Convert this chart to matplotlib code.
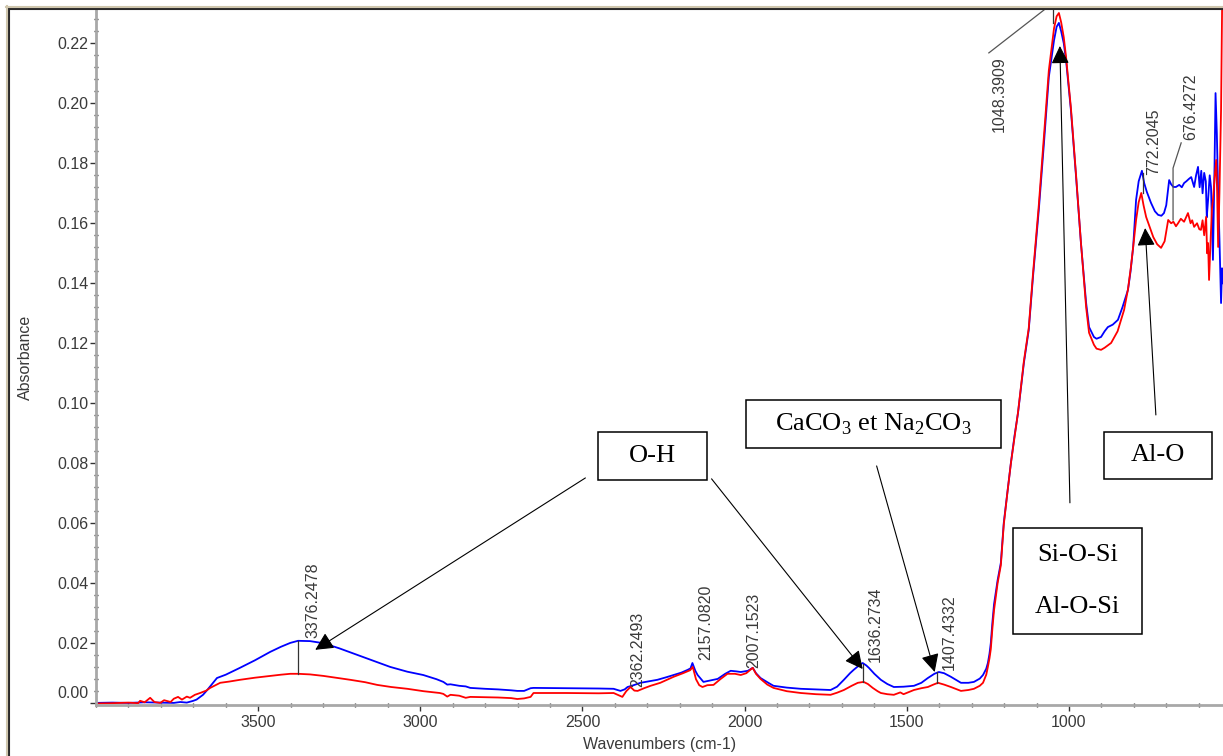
import matplotlib
matplotlib.use('Agg')
import matplotlib.pyplot as plt
import matplotlib.transforms as mtransforms
from matplotlib.patches import Rectangle
from matplotlib.lines import Line2D
from matplotlib.ticker import FixedLocator, MultipleLocator, FormatStrFormatter

plt.rcParams['font.family'] = ['Liberation Sans', 'DejaVu Sans']
plt.rcParams['mathtext.fontset'] = 'custom'
plt.rcParams['mathtext.rm'] = 'Liberation Serif'

# spectrum 1 (blue)
wn_blue = [4000, 3950, 3900, 3850, 3800, 3760, 3740, 3720, 3700, 3690, 3670, 3657, 3642, 3627, 3600,
           3556, 3510, 3463, 3430, 3401, 3377, 3340, 3299, 3250, 3194, 3140, 3093, 3040, 2991, 2950,
           2929, 2917, 2907, 2880, 2860, 2846, 2800, 2760, 2720, 2701, 2680, 2660, 2651, 2550, 2450,
           2404, 2383, 2370, 2361, 2345, 2321, 2290, 2269, 2240, 2219, 2195, 2176, 2167, 2161, 2152,
           2145, 2127, 2105, 2083, 2060, 2043, 2025, 2012, 1990, 1975, 1965, 1951, 1930, 1911, 1870,
           1827, 1780, 1735, 1715, 1694, 1675, 1664, 1645, 1636, 1625, 1617, 1600, 1580, 1560, 1540,
           1510, 1478, 1455, 1435, 1415, 1401, 1385, 1364, 1345, 1333, 1310, 1293, 1275, 1265, 1255,
           1250, 1245, 1241, 1236, 1231, 1220, 1210, 1201, 1190, 1179, 1168, 1157, 1148, 1139, 1124,
           1111, 1093, 1077, 1062, 1046, 1038, 1031, 1024, 1016, 1009, 994, 978, 963, 947, 938,
           923, 915, 901, 890, 880, 865, 849, 835, 818, 810, 802, 793, 785, 777, 775,
           768, 760, 747, 735, 725, 715, 707, 700, 691, 685, 678, 670, 660, 652, 645,
           638, 630, 623, 618, 614, 608, 602, 597, 592, 588, 583, 578, 575, 571, 566,
           562, 559, 556, 551, 548, 544, 540, 536, 531, 528, 525]
abs_blue = [0.0001, 0.0002, 0.0001, 0.0003, 0.0002, 0.0001, 0.0004, 0.0002, 0.0008, 0.0012, 0.0028, 0.0044, 0.0064, 0.0084, 0.0095,
            0.0118, 0.0143, 0.0171, 0.0188, 0.0201, 0.0208, 0.0207, 0.0200, 0.0183, 0.0161, 0.0140, 0.0121, 0.0105, 0.0094, 0.0080,
            0.0071, 0.0062, 0.0063, 0.0058, 0.0056, 0.0051, 0.0048, 0.0046, 0.0043, 0.0041, 0.0041, 0.0050, 0.0051, 0.0050, 0.0049,
            0.0048, 0.0041, 0.0046, 0.0054, 0.0059, 0.0068, 0.0074, 0.0078, 0.0087, 0.0094, 0.0102, 0.0111, 0.0116, 0.0134, 0.0108,
            0.0094, 0.0071, 0.0076, 0.0081, 0.0098, 0.0108, 0.0106, 0.0104, 0.0108, 0.0118, 0.0100, 0.0084, 0.0070, 0.0058, 0.0052,
            0.0048, 0.0046, 0.0044, 0.0055, 0.0078, 0.0100, 0.0111, 0.0128, 0.0134, 0.0126, 0.0118, 0.0098, 0.0078, 0.0064, 0.0054,
            0.0055, 0.0058, 0.0068, 0.0084, 0.0098, 0.0104, 0.0100, 0.0088, 0.0076, 0.0068, 0.0068, 0.0071, 0.0082, 0.0094, 0.0115,
            0.0134, 0.0165, 0.0200, 0.0270, 0.0330, 0.0410, 0.0468, 0.0601, 0.0700, 0.0801, 0.0890, 0.0968, 0.1050, 0.1134, 0.1244,
            0.1420, 0.1644, 0.1868, 0.2088, 0.2210, 0.2255, 0.2268, 0.2240, 0.2200, 0.2144, 0.1978, 0.1754, 0.1534, 0.1334, 0.1254,
            0.1221, 0.1215, 0.1221, 0.1240, 0.1254, 0.1262, 0.1278, 0.1320, 0.1378, 0.1440, 0.1521, 0.1678, 0.1740, 0.1768, 0.1775,
            0.1734, 0.1705, 0.1668, 0.1640, 0.1628, 0.1625, 0.1634, 0.1660, 0.1744, 0.1730, 0.1721, 0.1721, 0.1728, 0.1720, 0.1734,
            0.1740, 0.1748, 0.1754, 0.1735, 0.1721, 0.1760, 0.1788, 0.1720, 0.1775, 0.1700, 0.1768, 0.1740, 0.1620, 0.1678, 0.1760,
            0.1721, 0.1600, 0.1478, 0.1800, 0.2034, 0.1900, 0.1701, 0.1550, 0.1334, 0.1450, 0.1400]

# spectrum 2 (red)
wn_red = [4000, 3950, 3900, 3870, 3864, 3850, 3833, 3820, 3802, 3790, 3770, 3760, 3747, 3735, 3720,
          3710, 3695, 3679, 3660, 3648, 3617, 3590, 3556, 3510, 3463, 3430, 3401, 3377, 3340, 3299,
          3260, 3216, 3170, 3133, 3090, 3040, 2990, 2940, 2929, 2917, 2907, 2880, 2860, 2846, 2800,
          2760, 2720, 2701, 2680, 2660, 2651, 2550, 2450, 2404, 2385, 2377, 2365, 2352, 2340, 2330,
          2310, 2290, 2260, 2219, 2190, 2168, 2160, 2150, 2140, 2130, 2115, 2096, 2075, 2053, 2030,
          2012, 1995, 1975, 1965, 1951, 1930, 1911, 1870, 1827, 1780, 1735, 1715, 1694, 1670, 1651,
          1633, 1620, 1605, 1590, 1580, 1560, 1540, 1520, 1510, 1478, 1455, 1435, 1418, 1404, 1385,
          1364, 1345, 1333, 1310, 1293, 1275, 1265, 1255, 1250, 1245, 1241, 1236, 1231, 1220, 1210,
          1201, 1190, 1179, 1168, 1157, 1148, 1139, 1124, 1111, 1093, 1077, 1062, 1046, 1038, 1031,
          1024, 1016, 1009, 994, 978, 963, 947, 938, 923, 915, 901, 890, 870, 850, 830,
          818, 809, 800, 793, 785, 777, 770, 762, 750, 740, 728, 716, 705, 694, 685,
          678, 670, 663, 655, 645, 633, 625, 620, 614, 605, 598, 593, 588, 583, 577,
          574, 571, 568, 563, 559, 556, 551, 546, 543, 540, 536, 531, 528, 525]
abs_red = [-0.0001, 0.0000, 0.0002, 0.0000, 0.0008, 0.0003, 0.0018, 0.0004, 0.0001, 0.0010, 0.0004, 0.0015, 0.0021, 0.0012, 0.0022,
           0.0018, 0.0028, 0.0034, 0.0042, 0.0051, 0.0068, 0.0072, 0.0078, 0.0085, 0.0091, 0.0095, 0.0098, 0.0098, 0.0096, 0.0091,
           0.0085, 0.0078, 0.0070, 0.0061, 0.0054, 0.0048, 0.0040, 0.0034, 0.0031, 0.0022, 0.0028, 0.0025, 0.0018, 0.0021, 0.0020,
           0.0019, 0.0017, 0.0014, 0.0016, 0.0021, 0.0034, 0.0034, 0.0033, 0.0034, 0.0025, 0.0021, 0.0040, 0.0054, 0.0042, 0.0041,
           0.0050, 0.0058, 0.0068, 0.0088, 0.0100, 0.0110, 0.0121, 0.0080, 0.0060, 0.0054, 0.0060, 0.0061, 0.0080, 0.0098, 0.0098,
           0.0094, 0.0100, 0.0118, 0.0098, 0.0081, 0.0062, 0.0051, 0.0040, 0.0034, 0.0030, 0.0028, 0.0035, 0.0044, 0.0058, 0.0068,
           0.0071, 0.0064, 0.0051, 0.0040, 0.0034, 0.0030, 0.0028, 0.0036, 0.0030, 0.0044, 0.0050, 0.0054, 0.0062, 0.0068, 0.0062,
           0.0054, 0.0046, 0.0041, 0.0044, 0.0048, 0.0058, 0.0068, 0.0095, 0.0121, 0.0150, 0.0180, 0.0250, 0.0310, 0.0400, 0.0460,
           0.0595, 0.0700, 0.0800, 0.0885, 0.0970, 0.1055, 0.1140, 0.1250, 0.1430, 0.1660, 0.1890, 0.2110, 0.2250, 0.2290, 0.2301,
           0.2270, 0.2220, 0.2155, 0.1985, 0.1760, 0.1535, 0.1320, 0.1235, 0.1195, 0.1182, 0.1178, 0.1185, 0.1201, 0.1240, 0.1311,
           0.1380, 0.1454, 0.1540, 0.1611, 0.1670, 0.1701, 0.1660, 0.1621, 0.1585, 0.1554, 0.1530, 0.1518, 0.1540, 0.1611, 0.1600,
           0.1605, 0.1590, 0.1601, 0.1615, 0.1605, 0.1634, 0.1600, 0.1610, 0.1588, 0.1600, 0.1580, 0.1578, 0.1610, 0.1560, 0.1621,
           0.1500, 0.1534, 0.1411, 0.1550, 0.1650, 0.1678, 0.1750, 0.1811, 0.1700, 0.1521, 0.1700, 0.1978, 0.2300, 0.2600]

x_ticks = [3500, 3000, 2500, 2000, 1500, 1000]
y_ticks = [0.00, 0.02, 0.04, 0.06, 0.08, 0.10, 0.12, 0.14, 0.16, 0.18, 0.20, 0.22]

peak_names = ['3376.2478', '2362.2493', '2157.0820', '2007.1523', '1636.2734',
              '1407.4332', '1048.3909', '772.2045', '676.4272']
# where each rotated label sits (x, y of its bottom)
peak_label_xy = [(3330, 0.0218), (2330, 0.0054), (2120, 0.0144), (1972, 0.0118), (1596, 0.0138),
                 (1370, 0.0111), (1216, 0.1904), (738, 0.1760), (623, 0.1878)]

band_names = [['O-H'], ['CaCO$_3$ et Na$_2$CO$_3$'], ['Si-O-Si', 'Al-O-Si'], ['Al-O']]
band_boxes = [(2117, 2451, 0.0744, 0.0904), (1210, 1997, 0.0851, 0.1011),
              (775, 1173, 0.0231, 0.0584), (559, 892, 0.0748, 0.0904)]
arrows = [((2491, 0.0751), (3324, 0.0178)), ((2102, 0.0748), (1636, 0.0114)),
          ((1593, 0.0791), (1414, 0.0104)), ((997, 0.0668), (1028, 0.2191)),
          ((732, 0.0961), (765, 0.1584))]

W, H = 1223, 756
fig = plt.figure(figsize=(W / 100, H / 100), dpi=100)
ax = fig.add_axes([96 / W, 51 / H, 1127 / W, 695 / H])

ax.plot(wn_blue, abs_blue, color='#0000ff', lw=1.3)
ax.plot(wn_red, abs_red, color='#ff0000', lw=1.3)
ax.set_xlim(4000, 525)
ax.set_ylim(-0.0006, 0.2311)

ax.xaxis.set_major_locator(FixedLocator(x_ticks))
ax.xaxis.set_minor_locator(MultipleLocator(100))
ax.yaxis.set_major_locator(FixedLocator(y_ticks))
ax.yaxis.set_minor_locator(MultipleLocator(0.004))
ax.yaxis.set_major_formatter(FormatStrFormatter('%.2f'))
ax.xaxis.set_major_formatter(FormatStrFormatter('%d'))

for s in ['top', 'right']:
    ax.spines[s].set_visible(False)
for s in ['left', 'bottom']:
    ax.spines[s].set_color('#a8a8a8')
    ax.spines[s].set_linewidth(2)
ax.tick_params(which='major', length=4, width=1, color='#333333', labelsize=11.5,
               labelcolor='#3a3a3a', direction='out')
ax.tick_params(axis='y', which='major', pad=1.5)
ax.tick_params(axis='x', which='major', pad=3)
ax.tick_params(which='minor', length=3, width=1, color='#333333', direction='inout')

ax.set_xlabel('Wavenumbers (cm-1)', fontsize=11.5, color='#3a3a3a')
ax.set_ylabel('Absorbance', fontsize=11.5, color='#3a3a3a')
ax.xaxis.set_label_coords(0.5, -0.046)
ax.yaxis.set_label_coords(-0.056, 0.5)

# the lowest y label sits a bit higher than its tick
lab0 = ax.yaxis.get_major_ticks()[0].label1
lab0.set_transform(lab0.get_transform() + mtransforms.ScaledTranslation(0, 0.11, fig.dpi_scale_trans))

# peak labels
for name, (lx, ly) in zip(peak_names, peak_label_xy):
    ax.text(lx, ly, name, rotation=90, ha='center', va='bottom', fontsize=11.5,
            color='#3a3a3a', clip_on=False)

mk = dict(color='#333333', lw=0.9)
ax.plot([3376, 3376], [0.0098, 0.0207], **mk)
ax.plot([1636, 1636], [0.0072, 0.0132], **mk)
ax.plot([1407, 1407], [0.0068, 0.0103], **mk)
ax.plot([772, 772], [0.1701, 0.1768], **mk)
ax.plot([679, 679, 654], [0.1611, 0.1784, 0.1868], color='#555555', lw=0.9)
ax.plot([1247, 1077], [0.2168, 0.2311], color='#555555', lw=0.9)
ax.plot([1048, 1048], [0.2268, 0.2311], **mk)

# band boxes, lines about 52 px apart
line_gap = 37.5
for lines, (x0, x1, y0, y1) in zip(band_names, band_boxes):
    ax.add_patch(Rectangle((x0, y0), x1 - x0, y1 - y0, fill=False, ec='black', lw=1.1,
                           clip_on=False, zorder=4))
    n = len(lines)
    for i, line in enumerate(lines):
        ax.annotate(line, ((x0 + x1) / 2, (y0 + y1) / 2),
                    xytext=(0, ((n - 1) / 2 - i) * line_gap), textcoords='offset points',
                    ha='center', va='center', fontsize=19,
                    family=['Liberation Serif', 'DejaVu Serif'], zorder=5)

for (sx, sy), (tx, ty) in arrows:
    ax.annotate('', xy=(tx, ty), xytext=(sx, sy),
                arrowprops=dict(arrowstyle='-|>,head_length=1.1,head_width=0.55',
                                mutation_scale=10, color='black', lw=0.8,
                                shrinkA=0, shrinkB=0), zorder=6)

# window frame
fig.add_artist(Line2D([9 / W, 1], [1 - 9 / H, 1 - 9 / H], color='#2a2a2a', lw=1.5))
fig.add_artist(Line2D([9 / W, 9 / W], [0, 1 - 9 / H], color='#2a2a2a', lw=1.5))
fig.add_artist(Line2D([6 / W, 1], [1 - 6.5 / H, 1 - 6.5 / H], color='#cfc6ad', lw=1.5))
fig.add_artist(Line2D([6.5 / W, 6.5 / W], [0, 1 - 6 / H], color='#cfc6ad', lw=1.5))

fig.savefig('out.png', dpi=100)
